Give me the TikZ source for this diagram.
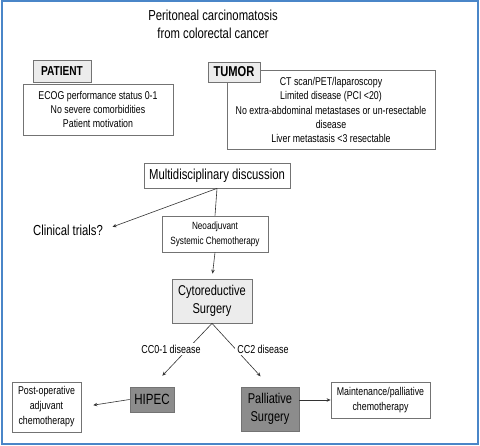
\documentclass[tikz,border=0pt]{standalone}
\usepackage{fontspec}
\setmainfont{Liberation Sans}[FakeStretch=0.78]
\usetikzlibrary{arrows.meta,shadows}
\definecolor{frameblue}{RGB}{74,134,200}
\definecolor{lightbox}{RGB}{236,236,236}
\definecolor{darkbox}{RGB}{140,140,140}
\tikzset{
  box/.style={draw=black!55, line width=0.8pt, fill=white, inner sep=0pt, align=center,
     drop shadow={opacity=0.35, shadow xshift=0.8pt, shadow yshift=-0.8pt}},
  arr/.style={-{Stealth[length=4pt,width=3.5pt]}, line width=0.6pt, black!80},
  ln/.style={line width=0.6pt, black!80},
  lbl/.style={align=center, inner sep=1pt}
}
\begin{document}
\begin{tikzpicture}[x=1pt,y=-1pt]
\useasboundingbox (0,0) rectangle (480,446);
\draw[frameblue, line width=2pt] (1.5,1.5) rectangle (477.5,444);
% title
\node[lbl, font=\fontsize{14.5}{18}\selectfont] (title) at (213,24) {Peritoneal carcinomatosis\\from colorectal cancer};
% patient
\node[box, minimum width=150pt, minimum height=51pt, font=\fontsize{11.3}{14}\selectfont] (pbox) at (98,109.5) {ECOG performance status 0-1\\No severe comorbidities\\Patient motivation};
\node[box, fill=lightbox, minimum width=58pt, minimum height=22pt, font=\fontsize{13}{14}\selectfont\bfseries] (plabel) at (62,71) {PATIENT};
% tumor
\node[box, minimum width=208pt, minimum height=79pt, font=\fontsize{11.3}{14.2}\selectfont] (tbox) at (331,110) {CT scan/PET/laparoscopy\\Limited disease (PCI <20)\\No extra-abdominal metastases or un-resectable\\disease\\Liver metastasis <3 resectable};
\node[box, fill=lightbox, minimum width=52pt, minimum height=20pt, font=\fontsize{14.3}{16}\selectfont\bfseries] (tlabel) at (234,72) {TUMOR};
% middle
\node[box, minimum width=146pt, minimum height=25pt, font=\fontsize{14.5}{16}\selectfont] (multi) at (217,175.5) {Multidisciplinary discussion};
\node[lbl, font=\fontsize{14.5}{16}\selectfont] (trials) at (68,230) {Clinical trials?};
\node[box, minimum width=106pt, minimum height=36pt, font=\fontsize{10.5}{15}\selectfont] (neo) at (215,234) {Neoadjuvant\\Systemic Chemotherapy};
\node[box, fill=lightbox, minimum width=80pt, minimum height=44pt, font=\fontsize{14.2}{17.7}\selectfont] (cyto) at (212,301) {Cytoreductive\\Surgery};
% bottom
\node[box, fill=darkbox, minimum width=44pt, minimum height=25pt, font=\fontsize{14.8}{17}\selectfont] (hipec) at (152,399.5) {HIPEC};
\node[box, fill=darkbox, minimum width=58pt, minimum height=44pt, font=\fontsize{14.2}{18}\selectfont] (pall) at (270,409) {Palliative\\Surgery};
\node[box, minimum width=69pt, minimum height=50pt, font=\fontsize{11.3}{15}\selectfont] (post) at (46.5,407) {Post-operative\\adjuvant\\chemotherapy};
\node[box, minimum width=99pt, minimum height=36pt, font=\fontsize{11.3}{15.5}\selectfont] (maint) at (380.5,400) {Maintenance/palliative\\chemotherapy};
% connectors
\draw[arr, shorten >=9pt] (multi.south) -- (trials.east);
\draw[ln] (multi.south) -- (neo.north);
\draw[arr, shorten >=5pt] (neo.south) -- (cyto.north);
\draw[arr, shorten >=15pt] (cyto.south) -- (hipec.north);
\draw[arr, shorten >=14pt] (cyto.south) -- (pall.north);
\draw[arr, shorten >=12pt] (hipec.west) -- (post.east);
\draw[arr] (pall.east |- maint.west) -- (maint.west);
\node[lbl, fill=white, inner sep=2pt, font=\fontsize{11.5}{12}\selectfont] (cc01) at (171,349) {CC0-1 disease};
\node[lbl, fill=white, inner sep=2pt, font=\fontsize{11.5}{12}\selectfont] (cc2) at (263,349) {CC2 disease};
\end{tikzpicture}
\end{document}
